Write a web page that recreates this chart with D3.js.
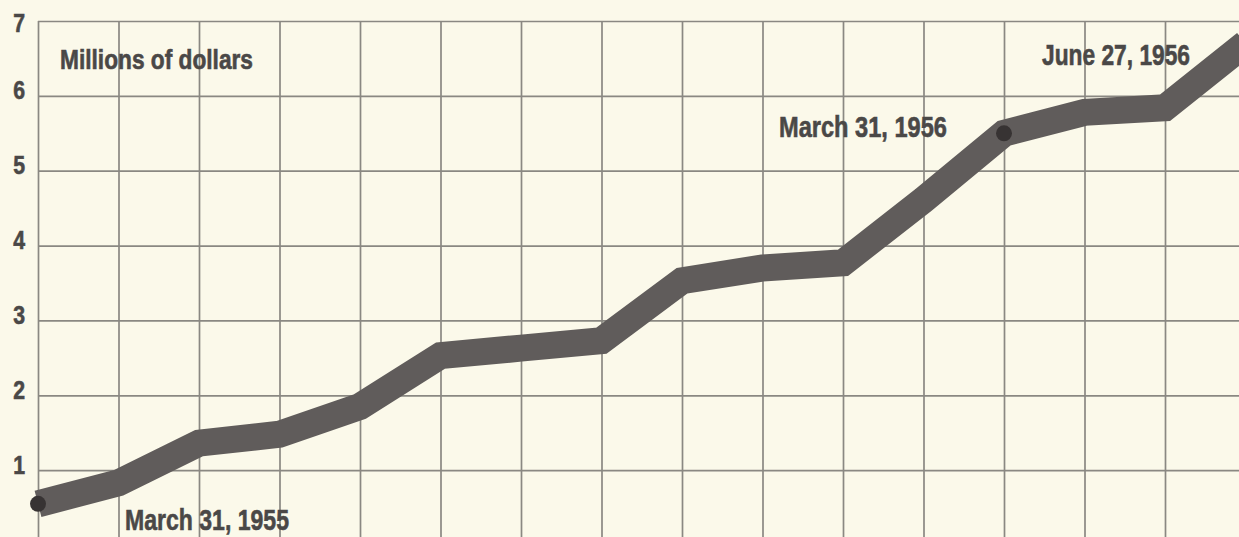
<!DOCTYPE html>
<html>
<head>
<meta charset="utf-8">
<script src="https://cdn.jsdelivr.net/npm/d3@7"></script>
<style>
  html, body { margin: 0; padding: 0; background: #fbf9ea; }
  svg { display: block; }
  text { font-family: "Liberation Sans", Arial, sans-serif; font-weight: bold; fill: #4a4847; stroke: #4a4847; stroke-width: 0.6px; }
</style>
</head>
<body>
<svg id="chart" width="1239" height="537"></svg>
<script>
// Month-end readings, March 1955 through June 1956
const months = ["Mar 1955", "Apr 1955", "May 1955", "Jun 1955", "Jul 1955", "Aug 1955",
  "Sep 1955", "Oct 1955", "Nov 1955", "Dec 1955", "Jan 1956", "Feb 1956",
  "Mar 1956", "Apr 1956", "May 1956", "Jun 1956"];
const millions = [0.55, 0.83, 1.36, 1.48, 1.85, 2.53, 2.63, 2.73, 3.53, 3.70, 3.77, 4.61,
  5.50, 5.78, 5.84, 6.70];
const yTicks = [1, 2, 3, 4, 5, 6, 7];
const unitLabel = "Millions of dollars";
// Dated call-outs
const callouts = [
  { month: "Mar 1955", text: "March 31, 1955", dot: true },
  { month: "Mar 1956", text: "March 31, 1956", dot: true },
  { month: "Jun 1956", text: "June 27, 1956", dot: false }
];

const W = 1239, H = 537;
const plotLeft = 38, plotTop = 21;

const svg = d3.select("#chart");

const x = d3.scalePoint().domain(months).range([plotLeft, 1245.5]);
const y = d3.scaleLinear().domain([0, 7]).range([545, plotTop]);

const gridColor = "#8a8882";

// squeeze text horizontally to a condensed face
function condense(sel, factor) {
  sel.each(function () {
    const len = this.getComputedTextLength();
    d3.select(this).attr("textLength", len * factor).attr("lengthAdjust", "spacingAndGlyphs");
  });
}

// horizontal rules
svg.append("g")
  .attr("transform", `translate(${plotLeft},0)`)
  .call(d3.axisLeft(y).tickValues(yTicks).tickSize(-(W - plotLeft)).tickFormat(""))
  .call(g => g.select(".domain").remove())
  .call(g => g.selectAll("line").attr("stroke", gridColor).attr("stroke-width", 1.7));

// vertical rules, one per month
svg.append("g")
  .attr("transform", `translate(0,${plotTop})`)
  .call(d3.axisBottom(x).tickSize(H - plotTop).tickFormat(""))
  .call(g => g.select(".domain").remove())
  .call(g => g.selectAll("line").attr("stroke", gridColor).attr("stroke-width", 1.7));

// value labels on the left
svg.append("g")
  .attr("transform", "translate(25,0)")
  .call(d3.axisLeft(y).tickValues(yTicks).tickSize(0).tickPadding(0).tickFormat(d3.format("d")))
  .call(g => g.select(".domain").remove())
  .call(g => g.selectAll("text")
    .attr("dy", null)
    .attr("y", d => Math.max(3, 31 - y(d)))
    .attr("text-anchor", "end")
    .attr("font-family", null)
    .attr("font-size", null)
    .style("font-size", "25px")
    .style("fill", "#4a4847")
    .call(condense, 0.85));

// the heavy trend line
const line = d3.line().x((d, i) => x(months[i])).y(d => y(d));
svg.append("path")
  .datum(millions)
  .attr("d", line)
  .attr("fill", "none")
  .attr("stroke", "#605c5b")
  .attr("stroke-width", 27)
  .attr("stroke-linejoin", "miter")
  .attr("stroke-linecap", "butt");

// date markers
svg.selectAll("circle.marker")
  .data(callouts.filter(c => c.dot))
  .join("circle")
  .attr("class", "marker")
  .attr("cx", c => x(c.month))
  .attr("cy", c => y(millions[months.indexOf(c.month)]))
  .attr("r", 8)
  .attr("fill", "#373333");

// text
svg.append("text")
  .attr("x", 60).attr("y", 69)
  .style("font-size", "27px")
  .attr("textLength", 193).attr("lengthAdjust", "spacingAndGlyphs")
  .text(unitLabel);

const labelPos = {
  "March 31, 1955": { x: 125, y: 530, w: 164 },
  "March 31, 1956": { x: 779, y: 137, w: 168 },
  "June 27, 1956": { x: 1042, y: 65, w: 148 }
};
svg.selectAll("text.callout")
  .data(callouts)
  .join("text")
  .attr("class", "callout")
  .attr("x", c => labelPos[c.text].x)
  .attr("y", c => labelPos[c.text].y)
  .attr("textLength", c => labelPos[c.text].w)
  .attr("lengthAdjust", "spacingAndGlyphs")
  .style("font-size", "30px")
  .text(c => c.text);
</script>
</body>
</html>
